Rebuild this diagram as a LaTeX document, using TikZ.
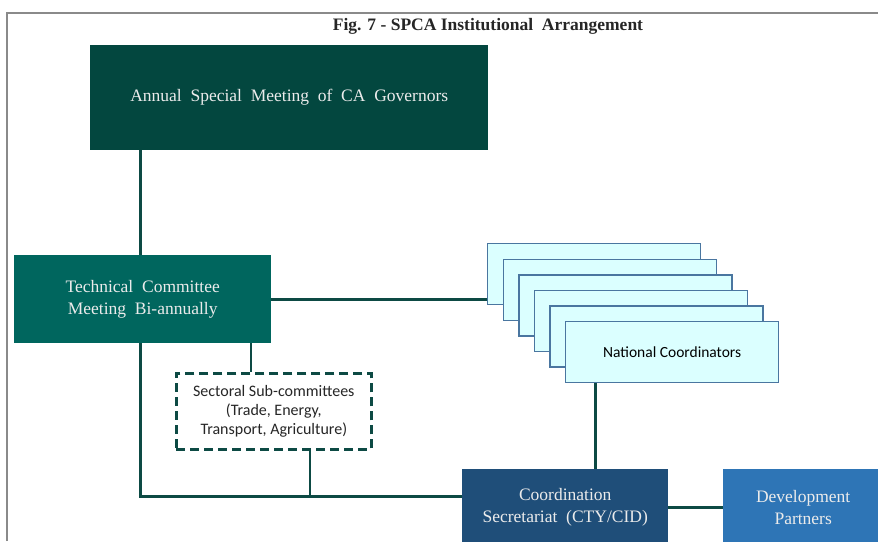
\documentclass[tikz,border=0pt]{standalone}
\usepackage{fontspec}
\setmainfont{Liberation Serif}
\newfontfamily\calib{Carlito}
\definecolor{annual}{HTML}{03473F}
\definecolor{tech}{HTML}{00665E}
\definecolor{coord}{HTML}{1F4E79}
\definecolor{devp}{HTML}{2E75B6}
\definecolor{ncfill}{HTML}{DBFFFF}
\definecolor{ncdraw}{HTML}{4A76A0}
\definecolor{link}{HTML}{0D4A44}
\definecolor{frame}{HTML}{8A8A8A}
\begin{document}
\begin{tikzpicture}[x=1pt,y=-1pt,
  solidbox/.style={anchor=north west,inner sep=0pt,text=white!92!black,align=center,font=\fontsize{17.5}{22}\selectfont},
  ncbox/.style={anchor=north west,inner sep=0pt,minimum width=213pt,minimum height=61pt,fill=ncfill,draw=ncdraw,line width=1.3pt},
  conn/.style={draw=link,line width=3pt},
  thinconn/.style={draw=link,line width=1.8pt}]
\useasboundingbox (0,0) rectangle (878,541);
\draw[frame,line width=2pt] (7,541) -- (7,13) -- (878,13);
\node[anchor=center,font=\bfseries\fontsize{17.5}{20}\selectfont,text=black!85] (title) at (488,26) {Fig. 7 - SPCA Institutional\ \ Arrangement};
\node[solidbox,fill=annual,minimum width=398pt,minimum height=105pt] (annual) at (90,45) {Annual\ \ Special\ \ Meeting\ \ of\ \ CA\ \ Governors};
\node[solidbox,fill=tech,minimum width=257pt,minimum height=88pt] (tech) at (14,255) {Technical\ \ Committee\\Meeting\ \ Bi-annually};
\foreach \i in {0,...,4}{
  \node[ncbox] (nc\i) at ({487+15.6*\i},{243+15.6*\i}) {};
}
\node[ncbox,font=\calib\fontsize{15.5}{18}\selectfont] (nc5) at (565,321) {National Coordinators};
\node[anchor=north west,inner sep=0pt,minimum width=195pt,minimum height=76pt,draw=link,line width=2.6pt,dash pattern=on 9pt off 5pt,fill=white,align=center,font=\calib\fontsize{16}{19}\selectfont,text=black!85] (sect) at (175,372) {Sectoral Sub-committees\\(Trade, Energy,\\Transport, Agriculture)};
\node[solidbox,fill=coord,minimum width=206pt,minimum height=76pt] (coordsec) at (462,469) {Coordination\\Secretariat\ \ (CTY/CID)};
\node[solidbox,fill=devp,minimum width=160pt,minimum height=76pt] (devpart) at (723,469) {Development\\Partners};
\coordinate (c1) at (140,496);
\draw[conn] (annual.south -| c1) -- (tech.north -| c1);
\draw[conn] (tech.east) -- (tech.east -| nc0.west);
\draw[conn] (tech.south -| c1) -- (c1) -- (c1 -| coordsec.west);
\coordinate (s1) at (251,0);
\draw[thinconn] (tech.south -| s1) -- (sect.north -| s1);
\coordinate (s2) at (310,0);
\draw[thinconn] (sect.south -| s2) -- (c1 -| s2);
\coordinate (n1) at (595,0);
\draw[conn] (nc5.south -| n1) -- (coordsec.north -| n1);
\draw[conn] (coordsec.east |- devpart.west) -- (devpart.west);
\end{tikzpicture}
\end{document}
